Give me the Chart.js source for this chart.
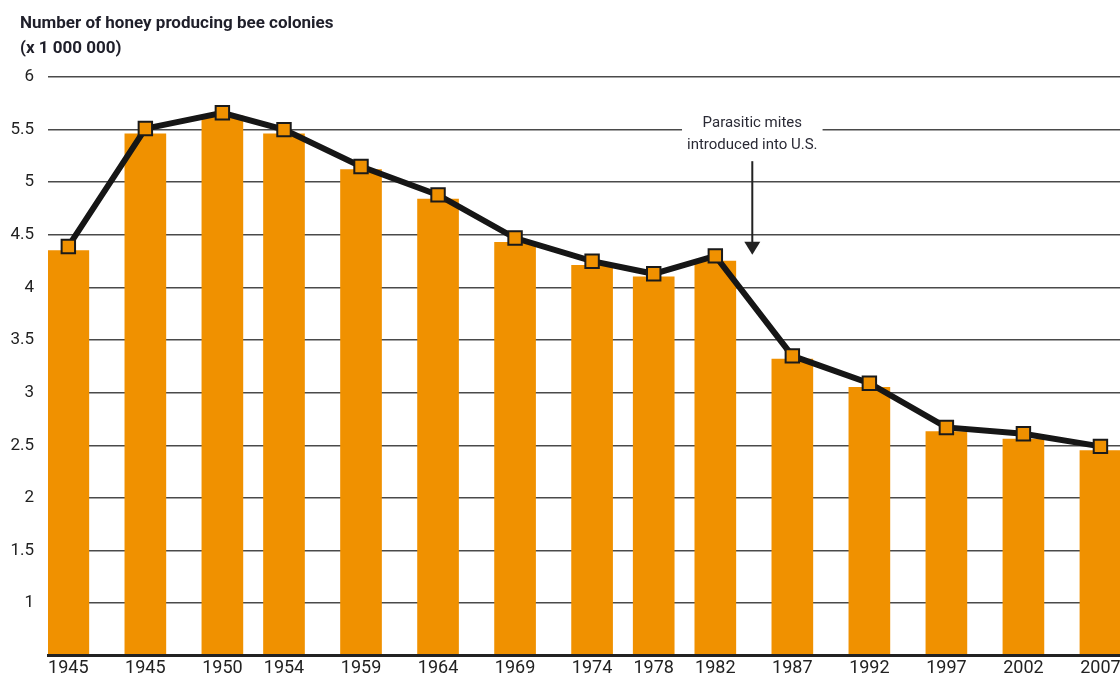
<!DOCTYPE html>
<html>
<head>
<meta charset="utf-8">
<title>Honey producing bee colonies</title>
<script src="https://cdn.jsdelivr.net/npm/chart.js@4.4.0/dist/chart.umd.min.js"></script>
<style>
  html, body { margin: 0; padding: 0; background: #fff; }
  #wrap { width: 1120px; height: 680px; }
</style>
</head>
<body>
<div id="wrap"><canvas id="beeChart"></canvas></div>
<script>
// survey years (first one is printed as 1945 in the source graphic)
const years = [1940, 1945, 1950, 1954, 1959, 1964, 1969, 1974, 1978, 1982, 1987, 1992, 1997, 2002, 2007];
const yearLabels = ['1945', '1945', '1950', '1954', '1959', '1964', '1969', '1974', '1978', '1982', '1987', '1992', '1997', '2002', '2007'];

// colonies, millions
const colonyBars = [4.35, 5.46, 5.63, 5.46, 5.12, 4.84, 4.43, 4.21, 4.10, 4.25, 3.32, 3.05, 2.63, 2.56, 2.45];
const colonyLine = [4.39, 5.51, 5.66, 5.50, 5.15, 4.88, 4.47, 4.25, 4.13, 4.30, 3.35, 3.09, 2.67, 2.61, 2.49];

const yTicks = [1, 1.5, 2, 2.5, 3, 3.5, 4, 4.5, 5, 5.5, 6];

const titleLines = ['Number of honey producing bee colonies', '(x 1 000 000)'];
const noteLines = ['Parasitic mites', 'introduced into U.S.'];
const noteYear = 1984.4;
const noteTextAt = [5.56, 5.35];
const noteArrow = [5.20, 4.31];

const FONT = 'Roboto, "Liberation Sans", sans-serif';
const ORANGE = '#F09100';

Chart.defaults.font.family = FONT;
Chart.defaults.color = '#222';

const beeText = {
    id: 'beeText',
    afterDraw(chart) {
        const { ctx, scales: { x, y } } = chart;
        ctx.save();

        // heading, top left
        ctx.font = 'bold 17px ' + FONT;
        ctx.fillStyle = '#1f1f2a';
        ctx.textAlign = 'left';
        ctx.textBaseline = 'middle';
        titleLines.forEach((t, i) => ctx.fillText(t, 20, 24 + i * 25));

        // note about the mites
        const cx = x.getPixelForValue(noteYear);
        ctx.font = '15px ' + FONT;
        const w = Math.max(...noteLines.map(t => ctx.measureText(t).width));
        const top = y.getPixelForValue(noteTextAt[0]) - 11;
        const bottom = y.getPixelForValue(noteTextAt[1]) + 11;
        ctx.fillStyle = '#fff';
        ctx.fillRect(cx - w / 2 - 5, top, w + 10, bottom - top);

        ctx.fillStyle = '#2a2a35';
        ctx.textAlign = 'center';
        noteLines.forEach((t, i) => ctx.fillText(t, cx, y.getPixelForValue(noteTextAt[i])));

        const y0 = y.getPixelForValue(noteArrow[0]);
        const tip = y.getPixelForValue(noteArrow[1]);
        ctx.strokeStyle = '#222';
        ctx.lineWidth = 2;
        ctx.beginPath();
        ctx.moveTo(cx, y0);
        ctx.lineTo(cx, tip - 10);
        ctx.stroke();
        ctx.fillStyle = '#222';
        ctx.beginPath();
        ctx.moveTo(cx, tip);
        ctx.lineTo(cx - 8, tip - 13);
        ctx.lineTo(cx + 8, tip - 13);
        ctx.closePath();
        ctx.fill();
        ctx.restore();
    }
};

const ctx = document.getElementById('beeChart').getContext('2d');
const chart = new Chart(ctx, {
    type: 'bar',
    data: {
        datasets: [{
            type: 'line',
            label: 'Colonies (line)',
            data: years.map((yr, i) => ({ x: yr, y: colonyLine[i] })),
            borderColor: '#161616',
            borderWidth: 6,
            tension: 0,
            pointStyle: 'rect',
            pointRadius: 9.5,
            pointBackgroundColor: ORANGE,
            pointBorderColor: '#1a1a1a',
            pointBorderWidth: 2,
            order: 0
        }, {
            type: 'bar',
            label: 'Colonies',
            data: years.map((yr, i) => ({ x: yr, y: colonyBars[i] })),
            backgroundColor: ORANGE,
            borderWidth: 0,
            barThickness: 41,
            order: 1
        }]
    },
    options: {
        responsive: true,
        maintainAspectRatio: false,
        animation: false,
        layout: { autoPadding: false, padding: { left: 0, right: 0, top: 77, bottom: 0 } },
        plugins: {
            legend: { display: false },
            tooltip: { enabled: false },
            title: { display: false }
        },
        scales: {
            x: {
                type: 'linear',
                offset: false,
                min: 1938.68,
                max: 2008.27,
                afterBuildTicks: axis => { axis.ticks = years.map(v => ({ value: v })); },
                afterFit: axis => {
                    axis.height = 23;
                    axis.paddingLeft = 0;
                    axis.paddingRight = 0;
                },
                grid: { display: false, drawTicks: false },
                border: { display: true, color: '#222', width: 3, z: 1 },
                ticks: {
                    autoSkip: false,
                    maxRotation: 0,
                    padding: 4,
                    color: '#222',
                    font: { size: 18, lineHeight: 1 },
                    callback: (value, index) => yearLabels[index]
                }
            },
            y: {
                min: 0.5,
                max: 6,
                afterBuildTicks: axis => { axis.ticks = yTicks.map(v => ({ value: v })); },
                afterFit: axis => { axis.width = 48; },
                grid: { color: '#4a4a4a', lineWidth: 1.5, drawTicks: false },
                border: { display: false },
                ticks: {
                    crossAlign: 'near',
                    padding: 14,
                    color: '#222',
                    font: { size: 17 },
                    callback: value => String(value)
                }
            }
        }
    },
    plugins: [beeText]
});
</script>
</body>
</html>
